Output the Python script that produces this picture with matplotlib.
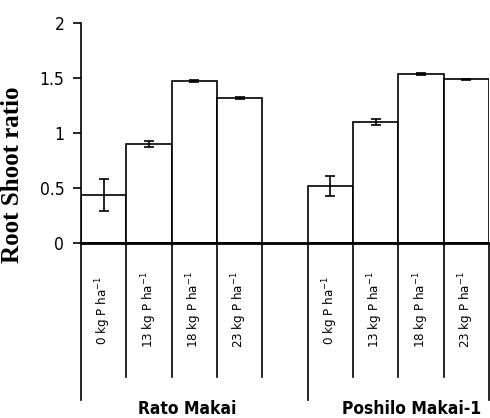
import matplotlib
matplotlib.use('Agg')
import matplotlib.pyplot as plt

# data
groups = ['Rato Makai', 'Poshilo Makai-1']
doses = ['0', '13', '18', '23']
rato_mean = [0.44, 0.90, 1.47, 1.32]
rato_err = [0.145, 0.03, 0.01, 0.01]
poshilo_mean = [0.52, 1.10, 1.54, 1.49]
poshilo_err = [0.09, 0.03, 0.01, 0.005]

fnt = dict(family='DejaVu Sans', stretch='condensed')

fig = plt.figure(figsize=(4.9, 4.18), dpi=100)
ax = fig.add_axes([81/490, 1 - 243/418, 408/490, 220/418])

# Rato Makai in slots 0-3, one empty slot, Poshilo Makai-1 in slots 5-8
x_rato = list(range(4))
x_posh = [5, 6, 7, 8]
for xs, m, e in [(x_rato, rato_mean, rato_err), (x_posh, poshilo_mean, poshilo_err)]:
    ax.bar(xs, m, width=1.0, color='white', edgecolor='black', linewidth=1.2)
    ax.errorbar(xs, m, yerr=e, fmt='none', ecolor='black', elinewidth=1.2,
                capsize=3.5, capthick=1.2)

ax.set_xlim(-0.5, 8.5)
ax.set_ylim(0, 2)
ax.set_yticks([0, 0.5, 1, 1.5, 2])
ax.set_yticklabels(['0', '0.5', '1', '1.5', '2'], fontsize=12.5, **fnt)
ax.tick_params(axis='y', length=6, width=1.2, pad=6)
ax.set_xticks([])
for s in ['top', 'right']:
    ax.spines[s].set_visible(False)
ax.spines['left'].set_linewidth(1.2)
ax.spines['bottom'].set_linewidth(2)

ax.set_ylabel('Root Shoot ratio', family='Liberation Serif', fontweight='bold',
              fontsize=18)
ax.yaxis.set_label_coords(-0.14, 0.31)

# multi-level category axis below the plot
tr = ax.get_xaxis_transform()
for xd in [0.5, 1.5, 2.5, 3.5, 5.5, 6.5, 7.5]:
    ax.plot([xd, xd], [0, -0.609], color='black', lw=1.2, transform=tr, clip_on=False)
for xd in [-0.5, 4.5, 8.5]:
    ax.plot([xd, xd], [0, -0.714], color='black', lw=1.2, transform=tr, clip_on=False)

for xs in [x_rato, x_posh]:
    for xi, d in zip(xs, doses):
        ax.text(xi, -0.305, d + r' kg P ha$^{\mathregular{-1}}$', rotation=90,
                ha='center', va='center', fontsize=9.5, transform=tr, **fnt)

ax.text(1.85, -0.755, groups[0], ha='center', va='center', fontsize=12.5,
        fontweight='bold', transform=tr, **fnt)
ax.text(6.8, -0.755, groups[1], ha='center', va='center', fontsize=12.5,
        fontweight='bold', transform=tr, **fnt)

plt.savefig('out.png', dpi=100)
